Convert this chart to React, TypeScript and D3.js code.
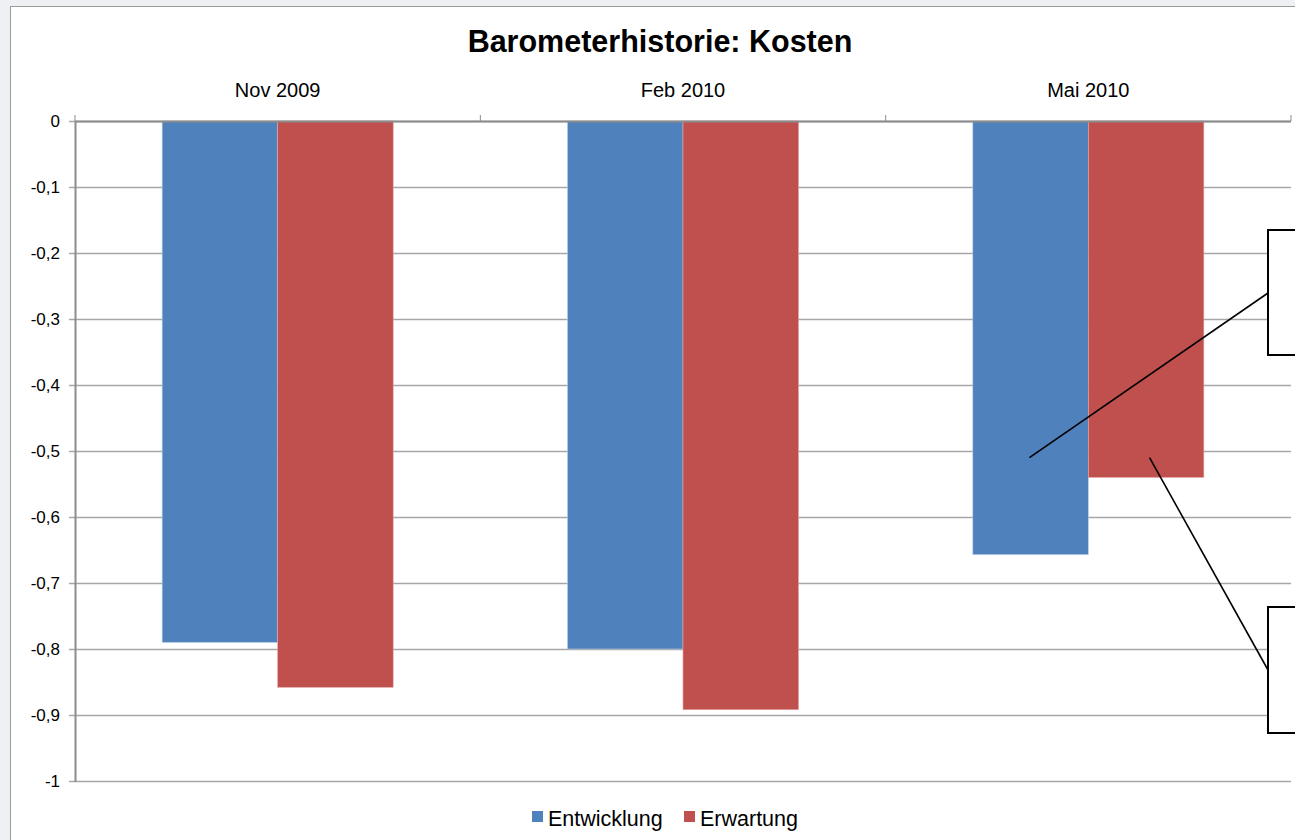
import React from "react";
import * as d3 from "d3";

const categories = ["Nov 2009", "Feb 2010", "Mai 2010"];
const seriesNames = ["Entwicklung", "Erwartung"];
const entwicklung = [-0.79, -0.8, -0.657];
const erwartung = [-0.858, -0.892, -0.54];
const yTicks = [0, -0.1, -0.2, -0.3, -0.4, -0.5, -0.6, -0.7, -0.8, -0.9, -1];
const colors = ["#4f81bd", "#c0504d"];

const W = 1295, H = 840;
const left = 75, right = 1291, top = 121, bottom = 781;

export default function App() {
  const x = d3.scaleBand<string>().domain(categories).range([left, right]).paddingInner(0).paddingOuter(0);
  const y = d3.scaleLinear().domain([0, -1]).range([top, bottom]);
  const bw = x.bandwidth();
  const barW = bw * 0.285;
  const series = [entwicklung, erwartung];
  const fmt = (v: number) => (v === 0 ? "0" : String(v).replace(".", ","));
  const font = "'Liberation Sans', Arial, sans-serif";

  // callout anchors from data
  const c = 2;
  const cx2 = x(categories[c]) as number;
  const blueX = cx2 + bw / 2 - barW;
  const redX = cx2 + bw / 2;
  const aBlue = { x: blueX + 0.49 * barW, y: y(-0.51) };
  const aRed = { x: redX + 0.53 * barW, y: y(-0.51) };

  return (
    <svg width={W} height={H} style={{ position: "absolute", left: 0, top: 0, fontFamily: font }}>
      <rect x={0} y={0} width={W} height={H} fill="#eef0f3" />
      <rect x={10.5} y={6.5} width={W + 20} height={H + 20} fill="#fff" stroke="#9a9a9a" strokeWidth={1} />
      <text x={660} y={52} textAnchor="middle" fontSize={30.5} fontWeight="bold" fill="#000">
        Barometerhistorie: Kosten
      </text>
      {yTicks.map((t) => (
        <g key={t}>
          <line x1={left - 6} x2={right} y1={y(t) + 0.5} y2={y(t) + 0.5} stroke="#a6a6a6" strokeWidth={1.5} />
          <text x={60} y={y(t) + 6} textAnchor="end" fontSize={17} fill="#000">{fmt(t)}</text>
        </g>
      ))}
      <line x1={left + 0.5} x2={left + 0.5} y1={top} y2={bottom + 1} stroke="#8c8c8c" strokeWidth={2} />
      {categories.map((cat, i) => {
        const cx = x(cat) as number;
        return (
          <g key={cat}>
            <line x1={cx} x2={cx} y1={top - 6} y2={top} stroke="#8c8c8c" strokeWidth={1} />
            <text x={cx + bw / 2} y={97} textAnchor="middle" fontSize={20} fill="#000">{cat}</text>
            {series.map((s, j) => {
              const bx = cx + bw / 2 - barW + j * barW;
              return (
                <rect key={j} x={bx} y={y(0)} width={barW} height={y(s[i]) - y(0)} fill={colors[j]}
                  stroke={j === 0 ? "#b9cde5" : "#e6a3a1"} strokeWidth={0.6} />
              );
            })}
          </g>
        );
      })}
      <line x1={left} x2={right} y1={top + 0.5} y2={top + 0.5} stroke="#8c8c8c" strokeWidth={2} />
      <line x1={right} x2={right} y1={top - 6} y2={top} stroke="#8c8c8c" strokeWidth={1} />
      {/* callouts */}
      <line x1={aBlue.x} y1={aBlue.y} x2={1268} y2={293} stroke="#000" strokeWidth={1.6} />
      <rect x={1268} y={230} width={100} height={125} fill="#fff" stroke="#000" strokeWidth={2} />
      <line x1={aRed.x} y1={aRed.y} x2={1268} y2={670} stroke="#000" strokeWidth={1.6} />
      <rect x={1268} y={607} width={100} height={126} fill="#fff" stroke="#000" strokeWidth={2} />
      {/* legend */}
      {seriesNames.map((n, i) => {
        const lx = [532, 684][i];
        return (
          <g key={n}>
            <rect x={lx} y={811} width={11} height={11} fill={colors[i]} />
            <text x={lx + 16} y={826} fontSize={21.5} fill="#000">{n}</text>
          </g>
        );
      })}
    </svg>
  );
}
